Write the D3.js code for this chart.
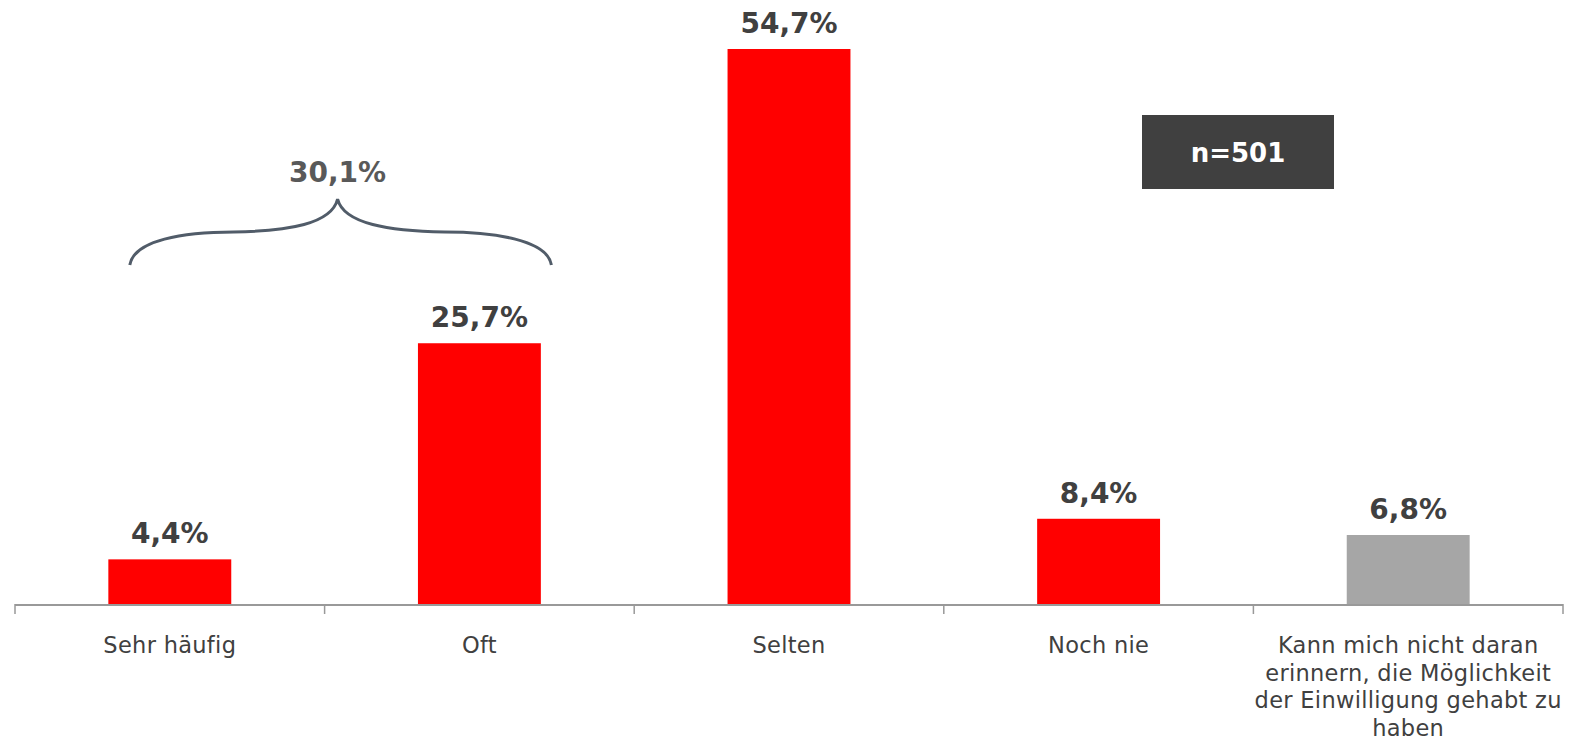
<!DOCTYPE html>
<html><head><meta charset="utf-8">
<script src="https://cdn.jsdelivr.net/npm/d3@7/dist/d3.min.js"></script>
<style>html,body{margin:0;padding:0;background:#fff;}svg{display:block;}</style>
</head><body>
<svg id="c" width="1594" height="749"></svg>
<script>
const categories = ["Sehr häufig","Oft","Selten","Noch nie","Kann mich nicht daran erinnern, die Möglichkeit der Einwilligung gehabt zu haben"];
const categoryLines = [["Sehr häufig"],["Oft"],["Selten"],["Noch nie"],["Kann mich nicht daran","erinnern, die Möglichkeit","der Einwilligung gehabt zu","haben"]];
const values = [4.4, 25.7, 54.7, 8.4, 6.8];
const valueLabels = ["4,4%","25,7%","54,7%","8,4%","6,8%"];
const barColors = ["#ff0000","#ff0000","#ff0000","#ff0000","#a6a6a6"];
const bracketLabel = "30,1%";
const sampleLabel = "n=501";

const svg = d3.select("#c");
const x = d3.scaleBand().domain(categories).range([15, 1563]).padding(0);
const y = d3.scaleLinear().domain([0, 54.7]).range([604, 49]);
const barW = x.bandwidth() * 0.397;
const FONT = "DejaVu Sans, Verdana, sans-serif";

// bars
svg.selectAll("rect.bar").data(categories).enter().append("rect")
  .attr("x", d => x(d) + x.bandwidth()/2 - barW/2)
  .attr("y", (d,i) => y(values[i]))
  .attr("width", barW)
  .attr("height", (d,i) => y(0) - y(values[i]))
  .attr("fill", (d,i) => barColors[i]);

// axis line + ticks
svg.append("line").attr("x1", 15).attr("x2", 1563).attr("y1", y(0)+1).attr("y2", y(0)+1)
  .attr("stroke", "#999").attr("stroke-width", 2);
const edges = categories.map(d => x(d)).concat([x.range()[1]]);
svg.selectAll("line.tick").data(edges).enter().append("line")
  .attr("x1", d => d).attr("x2", d => d).attr("y1", y(0)).attr("y2", y(0)+10)
  .attr("stroke", "#999").attr("stroke-width", 1.5);

// value labels
svg.selectAll("text.val").data(categories).enter().append("text")
  .attr("x", d => x(d) + x.bandwidth()/2)
  .attr("y", (d,i) => y(values[i]) - 16)
  .attr("text-anchor", "middle")
  .attr("font-family", FONT).attr("font-weight", "bold").attr("font-size", 28)
  .attr("fill", "#404040")
  .text((d,i) => valueLabels[i]);

// category labels
const cl = svg.selectAll("text.cat").data(categories).enter().append("text")
  .attr("text-anchor", "middle")
  .attr("font-family", FONT).attr("font-size", 22.5).attr("letter-spacing", 0.3)
  .attr("fill", "#404040");
cl.each(function(d,i){
  const t = d3.select(this);
  categoryLines[i].forEach((ln, k) => {
    t.append("tspan").attr("x", x(d) + x.bandwidth()/2).attr("y", 653 + k*27.5).text(ln);
  });
});

// bracket spanning first two bars
const c0 = x(categories[0]) + x.bandwidth()/2, c1 = x(categories[1]) + x.bandwidth()/2;
const L = c0 - 40, R = c1 + 72, M = (L + R) / 2 - 3;
const yEnd = 265, yArm = 232, yPeak = 199;
const q1 = L + (M - L) * 0.5, q2 = M + (R - M) * 0.5;
const path = `M${L},${yEnd} C${L+4},${yArm+8} ${q1-50},${yArm} ${q1},${yArm} C${q1+55},${yArm-1} ${M-6},${yArm-8} ${M},${yPeak}` +
             ` C${M+6},${yArm-8} ${q2-55},${yArm-1} ${q2},${yArm} C${q2+50},${yArm} ${R-4},${yArm+8} ${R},${yEnd}`;
svg.append("path").attr("d", path).attr("fill", "none").attr("stroke", "#515c69").attr("stroke-width", 3);
svg.append("text").attr("x", M).attr("y", 182).attr("text-anchor", "middle")
  .attr("font-family", FONT).attr("font-weight", "bold").attr("font-size", 28)
  .attr("fill", "#595959").text(bracketLabel);

// sample box
svg.append("rect").attr("x", 1142).attr("y", 115).attr("width", 192).attr("height", 74).attr("fill", "#404040");
svg.append("text").attr("x", 1238).attr("y", 162).attr("text-anchor", "middle")
  .attr("font-family", FONT).attr("font-weight", "bold").attr("font-size", 26)
  .attr("fill", "#fff").text(sampleLabel);
</script>
</body></html>
